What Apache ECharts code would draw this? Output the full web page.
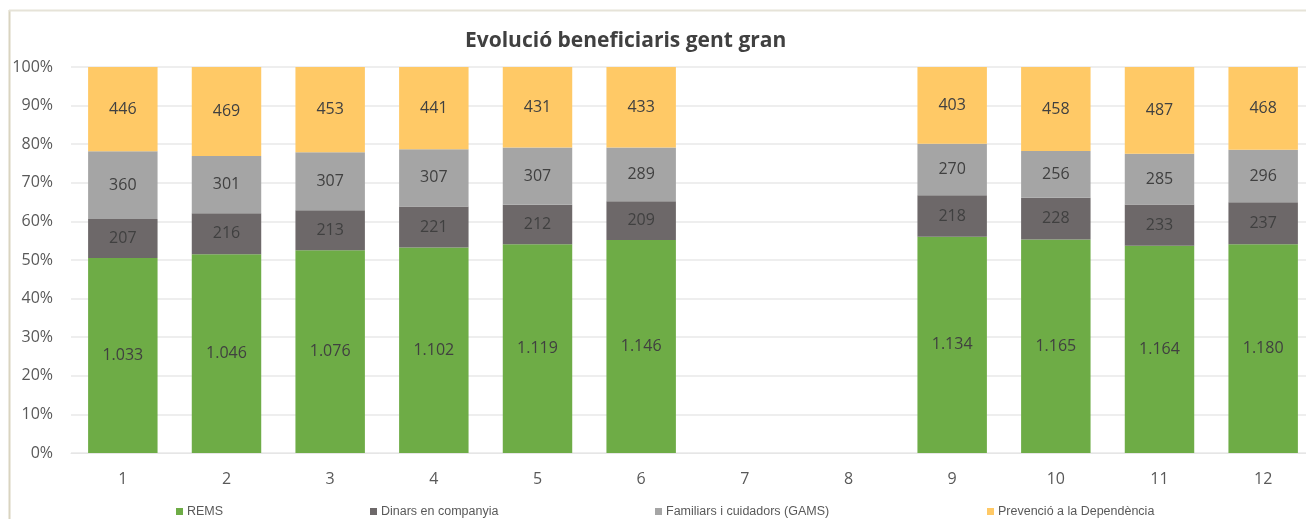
<!DOCTYPE html>
<html>
<head>
<meta charset="utf-8">
<script src="https://cdn.jsdelivr.net/npm/echarts@6/dist/echarts.min.js"></script>
<style>
  html, body { margin: 0; padding: 0; background: #fff; }
  #chart { width: 1306px; height: 519px; }
</style>
</head>
<body>
<div id="chart"></div>
<script>
const months = ['1', '2', '3', '4', '5', '6', '7', '8', '9', '10', '11', '12'];
const rems = [1033, 1046, 1076, 1102, 1119, 1146, null, null, 1134, 1165, 1164, 1180];
const dinars = [207, 216, 213, 221, 212, 209, null, null, 218, 228, 233, 237];
const familiars = [360, 301, 307, 307, 307, 289, null, null, 270, 256, 285, 296];
const prevencio = [446, 469, 453, 441, 431, 433, null, null, 403, 458, 487, 468];
const yTicks = ['0%', '10%', '20%', '30%', '40%', '50%', '60%', '70%', '80%', '90%', '100%'];

const seriesDefs = [
  { name: 'REMS', values: rems, color: '#6EAC46' },
  { name: 'Dinars en companyia', values: dinars, color: '#6D6869' },
  { name: 'Familiars i cuidadors (GAMS)', values: familiars, color: '#A5A5A5' },
  { name: 'Prevenció a la Dependència', values: prevencio, color: '#FFC966' }
];

// totals per month, for the 100% stacking
const totals = months.map((m, i) => {
  let s = 0;
  seriesDefs.forEach(d => { s += d.values[i] || 0; });
  return s;
});

// Catalan style thousands separator
const fmt = v => String(v).replace(/\B(?=(\d{3})+(?!\d))/g, '.');

// where each legend entry starts (Excel spreads them out unevenly)
const legendLeft = [176, 370, 655, 987];

const chart = echarts.init(document.getElementById('chart'));

const option = {
  backgroundColor: '#fff',
  animation: false,
  title: {
    text: 'Evolució beneficiaris gent gran',
    left: 460,
    top: 26,
    textStyle: {
      fontFamily: 'Open Sans',
      fontSize: 21,
      fontWeight: 'bold',
      color: '#404040'
    }
  },
  legend: seriesDefs.map((d, i) => ({
    data: [d.name],
    left: legendLeft[i],
    top: 505,
    padding: 0,
    itemWidth: 7,
    itemHeight: 7,
    itemGap: 4,
    icon: 'rect',
    textStyle: {
      fontFamily: 'Liberation Sans',
      fontSize: 12.5,
      color: '#595959',
      padding: [0, 0, 0, -1]
    }
  })),
  grid: {
    left: 71,
    right: -9,
    top: 67,
    bottom: 66,
    outerBoundsMode: 'none'
  },
  xAxis: {
    type: 'category',
    data: months,
    axisLine: { show: true, lineStyle: { color: '#E6E6E6' } },
    axisTick: { show: false },
    axisLabel: {
      fontFamily: 'Open Sans',
      fontSize: 16,
      color: '#595959',
      margin: 18
    }
  },
  yAxis: {
    type: 'value',
    min: 0,
    max: 1,
    interval: 0.1,
    axisLine: { show: false },
    axisTick: { show: false },
    splitLine: { lineStyle: { color: '#E8E8E8', width: 1.5 } },
    axisLabel: {
      fontFamily: 'Open Sans',
      fontSize: 16,
      color: '#595959',
      margin: 18,
      formatter: v => yTicks[Math.round(v * 10)]
    }
  },
  graphic: [
    {
      type: 'line',
      shape: { x1: 9.5, y1: 10, x2: 9.5, y2: 519 },
      style: { stroke: '#D9D4C0', lineWidth: 2 }
    },
    {
      type: 'line',
      shape: { x1: 9, y1: 10.5, x2: 1306, y2: 10.5 },
      style: { stroke: '#E6E3D8', lineWidth: 2 }
    }
  ],
  series: seriesDefs.map(d => ({
    name: d.name,
    type: 'bar',
    stack: 'total',
    barWidth: '67%',
    itemStyle: { color: d.color },
    label: {
      show: true,
      position: 'inside',
      fontFamily: 'Open Sans',
      fontSize: 16,
      color: '#404040',
      formatter: p => fmt(d.values[p.dataIndex])
    },
    data: d.values.map((v, i) => (v == null ? null : v / totals[i]))
  }))
};

chart.setOption(option);
</script>
</body>
</html>
